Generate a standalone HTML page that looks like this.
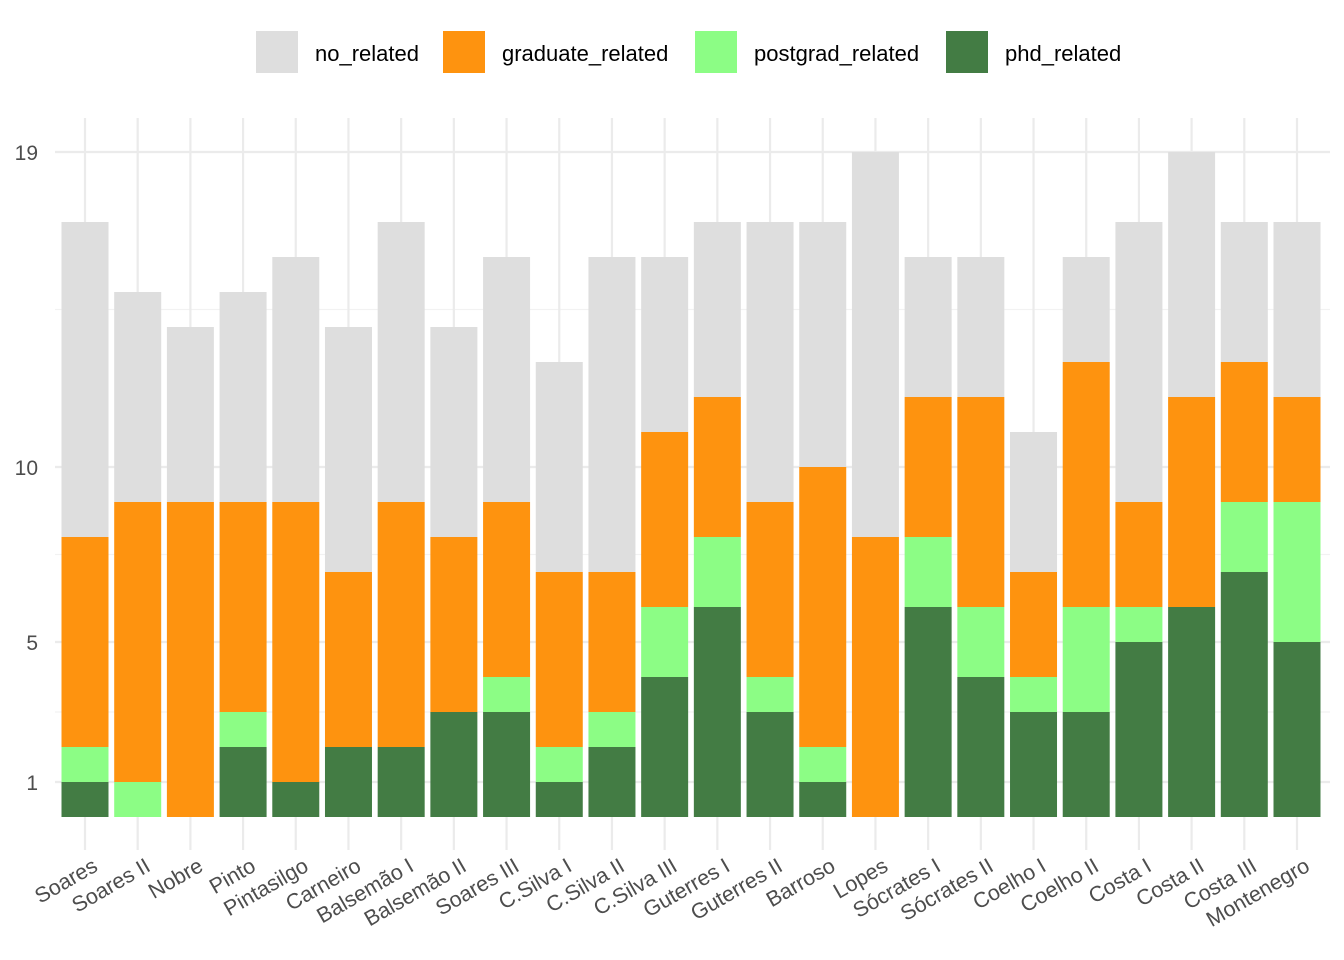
<!DOCTYPE html>
<html><head><meta charset="utf-8"><style>
body{margin:0;background:#fff;}
svg{display:block;font-family:"Liberation Sans",Arial,sans-serif;}
</style></head><body>
<svg id="chart" width="1344" height="960" xmlns="http://www.w3.org/2000/svg">
<g id="grid"></g>
<g id="bars"></g>
<g id="yaxis"></g>
<g id="xaxis"></g>
<g id="legend"></g>
</svg>
<script>
const categories=["Soares","Soares II","Nobre","Pinto","Pintasilgo","Carneiro","Balsemão I","Balsemão II","Soares III","C.Silva I","C.Silva II","C.Silva III","Guterres I","Guterres II","Barroso","Lopes","Sócrates I","Sócrates II","Coelho I","Coelho II","Costa I","Costa II","Costa III","Montenegro"];
const phd=[1,0,0,2,1,2,2,3,3,1,2,4,6,3,1,0,6,4,3,3,5,6,7,5];
const postgrad=[1,1,0,1,0,0,0,0,1,1,1,2,2,1,1,0,2,2,1,3,1,0,2,4];
const graduate=[6,8,9,6,8,5,7,5,5,5,4,5,4,5,8,8,4,6,3,7,3,6,4,3];
const noRelated=[9,6,5,6,7,7,8,6,7,6,9,5,5,8,7,11,4,4,4,3,8,7,4,5];
const yTicks=[1,5,10,19];
const seriesNames=["no_related","graduate_related","postgrad_related","phd_related"];
const colors={phd_related:"#437c44",postgrad_related:"#8cfd85",graduate_related:"#fe930f",no_related:"#dedede"};
const NS="http://www.w3.org/2000/svg";
function mk(t,a,p){const e=document.createElementNS(NS,t);for(const k in a)e.setAttribute(k,a[k]);p.appendChild(e);return e;}
const y0=817,unit=35,x0=85,step=(1297-85)/23,bw=47;
const yS=v=>y0-v*unit;
const xS=i=>x0+i*step;
const grid=document.getElementById('grid');
for(let i=0;i<yTicks.length-1;i++){const m=(yTicks[i]+yTicks[i+1])/2;
const l=mk('line',{x1:55,x2:1330,y1:yS(m),y2:yS(m),stroke:'#f2f2f2','stroke-width':1.2},grid);

}
yTicks.forEach(t=>{const l=mk('line',{x1:55,x2:1330,y1:yS(t),y2:yS(t),stroke:'#ebebeb','stroke-width':2.2},grid);

});
categories.forEach((c,i)=>{const l=mk('line',{x1:xS(i),x2:xS(i),y1:118,y2:850,stroke:'#ebebeb','stroke-width':2.2},grid);

});
const bars=document.getElementById('bars');
categories.forEach((c,i)=>{
 const stack=[["phd_related",phd[i]],["postgrad_related",postgrad[i]],["graduate_related",graduate[i]],["no_related",noRelated[i]]];
 let cum=0;
 stack.forEach(([s,v])=>{ if(v>0){const r=mk('rect',{x:xS(i)-bw/2,y:yS(cum+v),width:bw,height:v*unit,fill:colors[s]},bars);
 
 } cum+=v;});
});
const ya=document.getElementById('yaxis');
yTicks.forEach(t=>{const e=mk('text',{x:38,y:yS(t)+8,'text-anchor':'end','font-size':21,fill:'#4d4d4d'},ya);e.textContent=t;

});
const xa=document.getElementById('xaxis');
categories.forEach((c,i)=>{const x=xS(i)+6,y=856;
 const e=mk('text',{x:x,y:y,'text-anchor':'end','font-size':21.5,fill:'#4d4d4d',transform:`rotate(-30 ${x} ${y})`,dy:'0.75em'},xa);e.textContent=c;
 
 });
const lg=document.getElementById('legend');
const lx=[256,443,695,946];
seriesNames.forEach((s,i)=>{
 const r=mk('rect',{x:lx[i],y:31,width:42,height:42,fill:colors[s]},lg);
 
 
 const t=mk('text',{x:lx[i]+59,y:61,'font-size':22,fill:'#000'},lg);t.textContent=s;
 
 
});
</script>
</body></html>
